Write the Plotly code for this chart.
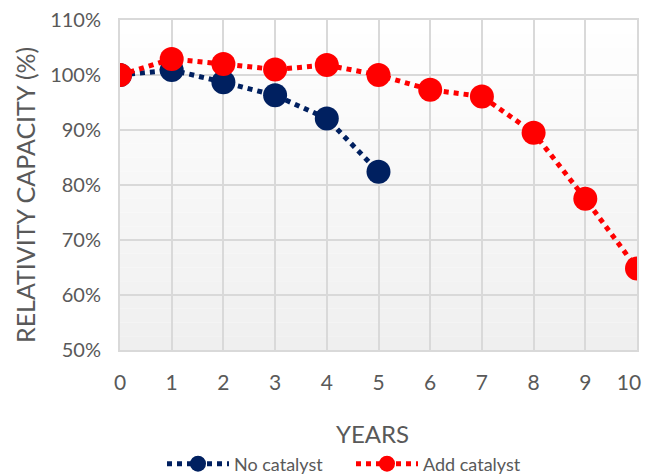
import plotly.graph_objects as go

years = list(range(11))
no_cat_years = [0, 1, 2, 3, 4, 5]
no_catalyst = [100, 100.9, 98.7, 96.3, 92.1, 82.4]
add_catalyst = [100, 102.9, 102.0, 101.0, 101.8, 100.0, 97.3, 96.1, 89.5, 77.5, 64.8]
y_ticks = [50, 60, 70, 80, 90, 100, 110]
y_labels = [f"{v}%" for v in y_ticks]
x_labels = [str(v) for v in years]
x_labels[-1] = x_labels[-1] + "\u00a0\u00a0\u00a0"  # keep last label inside the page

FONT = "Lato"
GRAY = "#595959"
OFF = 8  # page body margin
W, H = 651 - OFF, 475 - OFF
# plot area in page pixels: x 120..637, y 20..350
PX0, PX1, PY0, PY1 = 120, 637, 20, 350
L, R, T, B = PX0 - OFF, W - (PX1 - OFF), PY0 - OFF, H - (PY1 - OFF)
pw, ph = PX1 - PX0, PY1 - PY0

def px(x):
    return (x - PX0) / pw

def py(y):
    return (PY1 - y) / ph

fig = go.Figure()
fig.add_trace(go.Scatter(
    x=no_cat_years, y=no_catalyst, name="No catalyst", mode="lines+markers",
    line=dict(color="#002060", width=5, dash="dot"),
    marker=dict(color="#002060", size=24),
))
fig.add_trace(go.Scatter(
    x=years, y=add_catalyst, name="Add catalyst", mode="lines+markers",
    line=dict(color="#ff0000", width=5, dash="dot"),
    marker=dict(color="#ff0000", size=24),
))

# gradient background
n = 24
shapes = []
for i in range(n):
    t = (i + 0.5) / n
    c = int(round(255 - (255 - 239) * t))
    shapes.append(dict(type="rect", xref="paper", yref="paper",
                       x0=0, x1=1, y0=1 - (i + 1) / n, y1=1 - i / n,
                       fillcolor=f"rgb({c},{c},{c})", line=dict(width=0), layer="below"))

annotations = [
    dict(text="YEARS", xref="paper", yref="paper",
         x=px(372), y=py(433), xanchor="center", yanchor="middle",
         showarrow=False, font=dict(size=24, color=GRAY, family=FONT)),
    dict(text="RELATIVITY CAPACITY (%)", xref="paper", yref="paper",
         x=px(OFF), y=py(195), xanchor="left", yanchor="middle",
         textangle=-90, showarrow=False, font=dict(size=25, color=GRAY, family=FONT)),
]

fig.update_layout(
    width=W, height=H,
    margin=dict(l=L, r=R, t=T, b=B),
    paper_bgcolor="white", plot_bgcolor="white",
    shapes=shapes, annotations=annotations,
    font=dict(family=FONT, color=GRAY, size=18),
    showlegend=True,
    legend=dict(orientation="h", xref="container", yref="container",
                x=(351 - OFF) / W, xanchor="center", y=(475 - 464) / H, yanchor="middle",
                font=dict(size=18, color=GRAY), itemwidth=62, entrywidth=112,
                entrywidthmode="pixels"),
)
fig.update_xaxes(
    range=[0, 10], tickmode="array", tickvals=years, ticktext=x_labels,
    showgrid=True, gridcolor="#d9d9d9", gridwidth=2, zeroline=False,
    showline=True, linecolor="#d9d9d9", linewidth=2, mirror=True,
    ticks="", ticklabelstandoff=13, automargin=False, ticklabeloverflow="allow",
    tickfont=dict(size=21, color=GRAY),
)
fig.update_yaxes(
    range=[50, 110], tickmode="array", tickvals=y_ticks, ticktext=y_labels,
    showgrid=True, gridcolor="#d9d9d9", gridwidth=2, zeroline=False,
    showline=True, linecolor="#d9d9d9", linewidth=2, mirror=True,
    ticks="", ticklabelstandoff=13, automargin=False, ticklabeloverflow="allow",
    tickfont=dict(size=20, color=GRAY),
)

fig.write_html("out.html")
